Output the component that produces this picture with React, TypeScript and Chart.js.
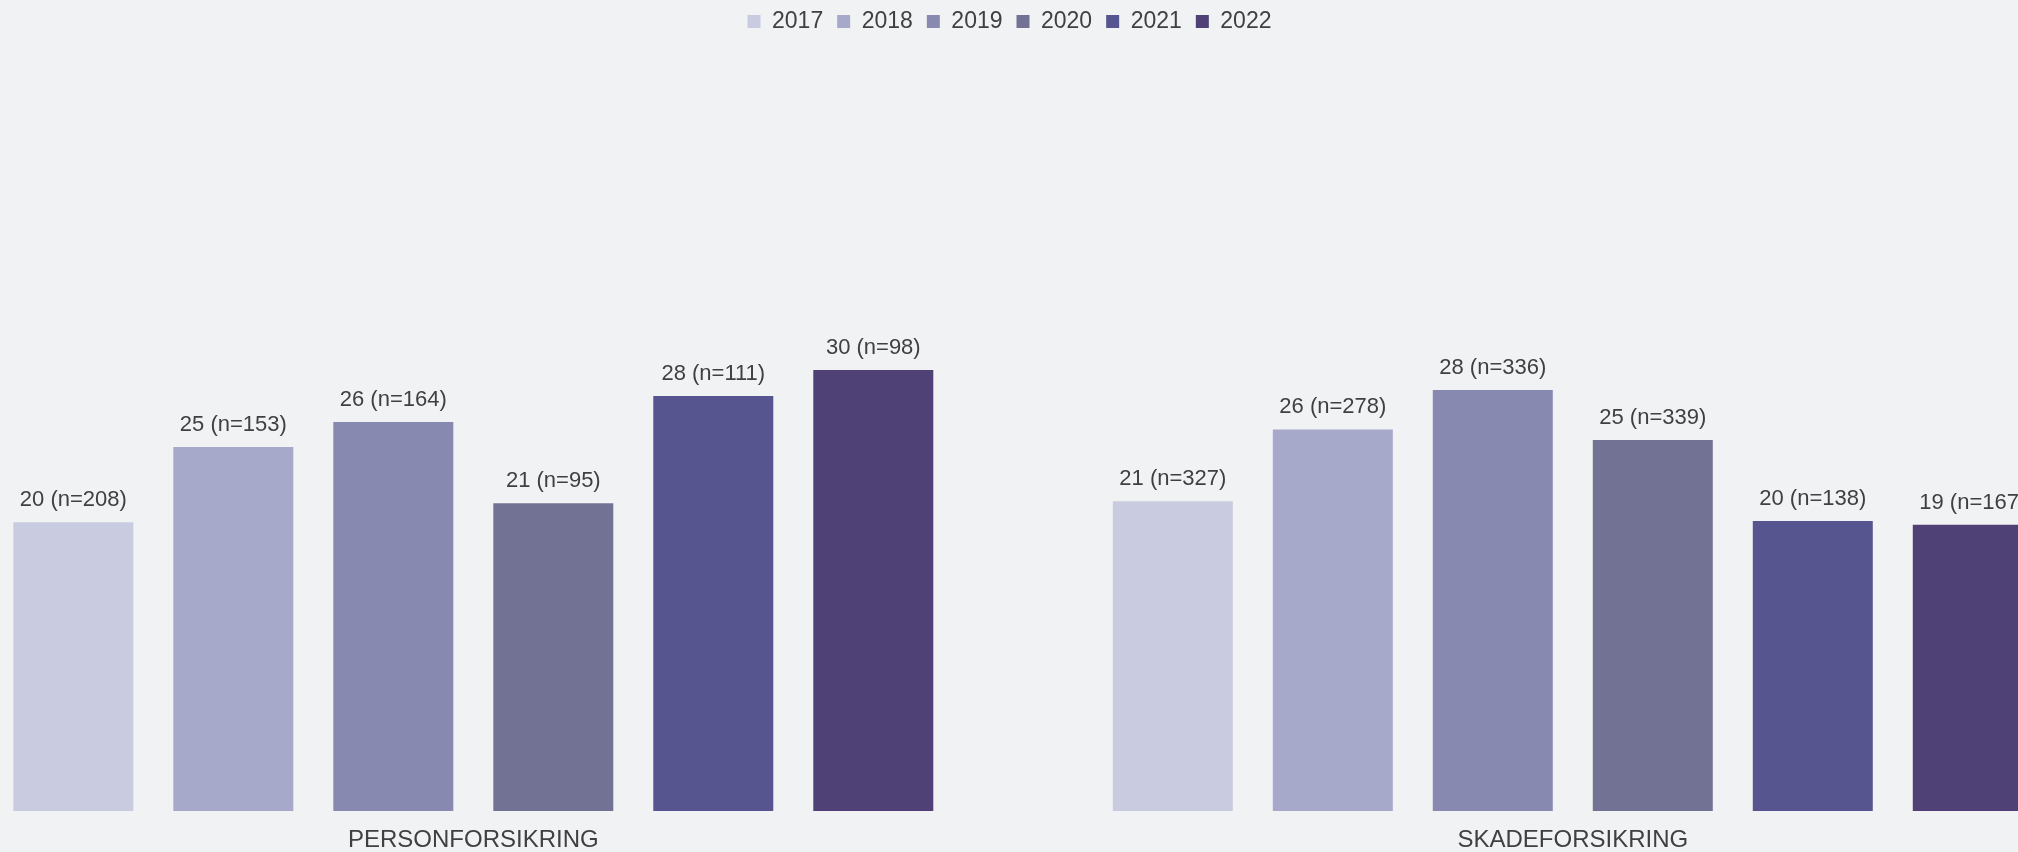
import { useEffect, useRef } from "react";
import { Chart, registerables } from "chart.js";

Chart.register(...registerables);

const categories = ["PERSONFORSIKRING", "SKADEFORSIKRING"];
const years = ["2017", "2018", "2019", "2020", "2021", "2022"];
const personValues = [19.53, 24.62, 26.31, 20.82, 28.07, 29.83];
const skadeValues = [20.95, 25.81, 28.47, 25.09, 19.61, 19.36];
const personCounts = [208, 153, 164, 95, 111, 98];
const skadeCounts = [327, 278, 336, 339, 138, 167];
const yearColors = ["#c9cce0", "#a7a9cb", "#8889b0", "#727394", "#57558f", "#4f4176"];

const FONT = "'Liberation Sans', Arial, Helvetica, sans-serif";
const TEXT = "#404040";

const CANVAS_W = 2280;
const CANVAS_H = 870;

const valueLabelPlugin = {
  id: "valueLabels",
  afterDatasetsDraw(chart: any) {
    const ctx = chart.ctx;
    ctx.save();
    ctx.font = `22px ${FONT}`;
    ctx.fillStyle = TEXT;
    ctx.textAlign = "center";
    ctx.textBaseline = "alphabetic";
    chart.data.datasets.forEach((ds: any, di: number) => {
      const meta = chart.getDatasetMeta(di);
      meta.data.forEach((bar: any, i: number) => {
        const v = ds.data[i];
        const n = ds.counts[i];
        ctx.fillText(`${Math.round(v)} (n=${n})`, bar.x, bar.y - 16);
      });
    });
    ctx.restore();
  },
};

export default function App() {
  const ref = useRef<HTMLCanvasElement | null>(null);

  useEffect(() => {
    if (!ref.current) return;
    const datasets = years.map((y, i) => ({
      label: y,
      data: [personValues[i], skadeValues[i]],
      counts: [personCounts[i], skadeCounts[i]],
      backgroundColor: yearColors[i],
      borderWidth: 0,
      xAxisID: "x",
      yAxisID: "y",
      categoryPercentage: 0.8731,
      barPercentage: 0.75,
    }));
    const chart = new Chart(ref.current, {
      type: "bar",
      data: { labels: categories, datasets: datasets as any },
      options: {
        responsive: false,
        animation: false,
        events: [],
        layout: { padding: { left: 26.45, right: 27.45, top: 0, bottom: 10 } },
        plugins: {
          tooltip: { enabled: false },
          legend: {
            position: "top",
            labels: {
              boxWidth: 13,
              boxHeight: 13,
              padding: 14,
              color: TEXT,
              font: { family: FONT, size: 23 },
            },
          },
        },
        scales: {
          x: {
            position: "bottom",
            grid: { display: false, drawTicks: false },
            border: { display: false },
            ticks: { color: TEXT, font: { family: FONT, size: 24 }, padding: 15, maxRotation: 0 },
            afterFit: (s: any) => {
              s.height = 45;
            },
          },
          xTop: {
            type: "category",
            position: "top",
            grid: { display: false, drawTicks: false },
            border: { display: false },
            ticks: { display: false },
            afterFit: (s: any) => {
              s.height = 28.75;
            },
          },
          y: {
            position: "left",
            min: 0,
            max: 50,
            grid: { display: false, drawTicks: false },
            border: { display: false },
            ticks: { display: false },
            afterFit: (s: any) => {
              s.width = 27.1;
            },
          },
        } as any,
      },
      plugins: [valueLabelPlugin],
    });
    return () => chart.destroy();
  }, []);

  return (
    <div
      style={{
        position: "fixed",
        left: 0,
        top: 0,
        width: 2018,
        height: 852,
        overflow: "hidden",
        background: "#f1f2f4",
      }}
    >
      <canvas
        ref={ref}
        width={CANVAS_W}
        height={CANVAS_H}
        style={{ position: "absolute", left: -130, top: -4, width: CANVAS_W, height: CANVAS_H }}
      />
    </div>
  );
}
